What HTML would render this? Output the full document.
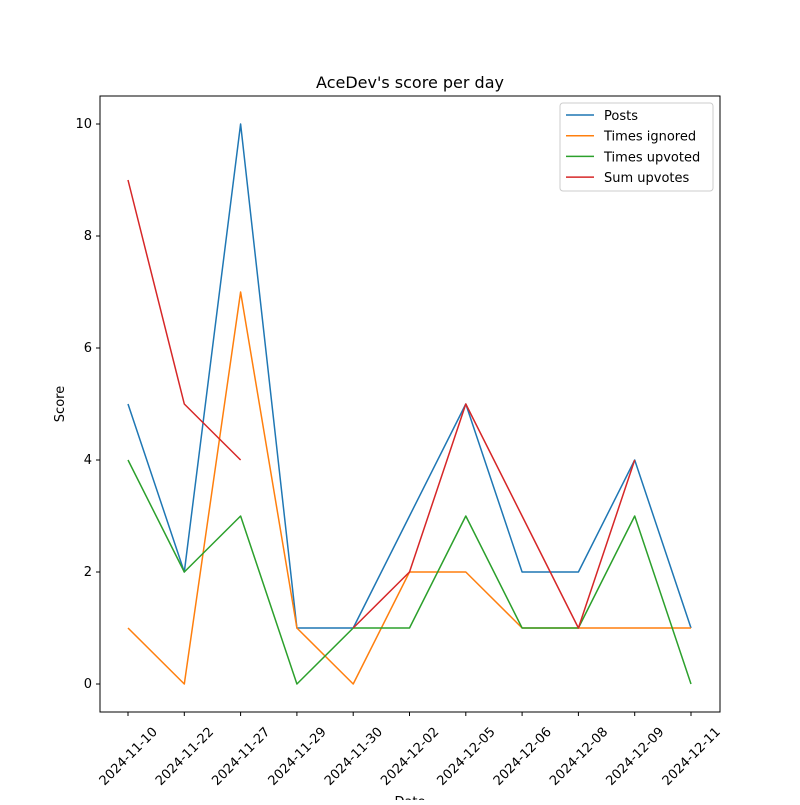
<!DOCTYPE html>
<html><head><meta charset="utf-8"><style>
body{margin:0;background:#fff}
svg{font-family:"DejaVu Sans","Liberation Sans",sans-serif}
</style></head><body>
<svg id="c" width="800" height="800" xmlns="http://www.w3.org/2000/svg"></svg>
<script>
const categories=["2024-11-10","2024-11-22","2024-11-27","2024-11-29","2024-11-30","2024-12-02","2024-12-05","2024-12-06","2024-12-08","2024-12-09","2024-12-11"];
const posts=[5,2,10,1,1,3,5,2,2,4,1];
const ignored=[1,0,7,1,0,2,2,1,1,1,1];
const upvoted=[4,2,3,0,1,1,3,1,1,3,0];
const sumUpvotes=[9,5,4,null,1,2,5,3,1,4,null];
const yTicks=[0,2,4,6,8,10];
const seriesNames=["Posts","Times ignored","Times upvoted","Sum upvotes"];
const colors=["#1f77b4","#ff7f0e","#2ca02c","#d62728"];
const NS="http://www.w3.org/2000/svg";
const svg=document.getElementById('c');
const L=100,R=720,T=96,B=712;
const x=i=>128+i*(691-128)/(categories.length-1);
const y=v=>684-v*56;
function mk(tag,attrs,parent){const e=document.createElementNS(NS,tag);for(const k in attrs)e.setAttribute(k,attrs[k]);(parent||svg).appendChild(e);return e;}
const title=mk('text',{x:410,y:88,'text-anchor':'middle','font-size':16});
title.textContent="AceDev's score per day";


yTicks.forEach(v=>{
  const t=mk('line',{x1:L-4,x2:L,y1:y(v),y2:y(v),stroke:'#000'});
  
  
  const l=mk('text',{x:L-8,y:y(v)+4,'text-anchor':'end','font-size':13});
  l.textContent=v;
  
  
});
categories.forEach((c,i)=>{
  mk('line',{x1:x(i),x2:x(i),y1:B,y2:B+4,stroke:'#000'});
  const l=mk('text',{transform:`translate(${x(i)},${B+44}) rotate(-45)`,'text-anchor':'middle','dy':'0.35em','font-size':13});
  l.textContent=c;
  
  
});
const yl=mk('text',{transform:'translate(64,404) rotate(-90)','text-anchor':'middle','font-size':13});
yl.textContent='Score';


const xl=mk('text',{x:410,y:806,'text-anchor':'middle','font-size':13});
xl.textContent='Date';


[posts,ignored,upvoted,sumUpvotes].forEach((s,si)=>{
  let d='',pen=false;
  s.forEach((v,i)=>{if(v==null){pen=false;return;}d+=(pen?'L':'M')+x(i)+' '+y(v)+' ';pen=true;});
  const p=mk('path',{d:d,fill:'none',stroke:colors[si],'stroke-width':1.5,'stroke-linejoin':'round'});
  
  
});
const frame=mk('rect',{x:L,y:T,width:R-L,height:B-T,fill:'none',stroke:'#000','stroke-width':1});


const lg=mk('g',{});


mk('rect',{x:560,y:103,width:153,height:88,rx:3,fill:'#fff',stroke:'#ccc'},lg);
seriesNames.forEach((n,i)=>{
  const yy=115+i*20.7;
  mk('line',{x1:566,x2:594,y1:yy,y2:yy,stroke:colors[i],'stroke-width':1.5},lg);
  const t=mk('text',{x:604,y:yy+5,'font-size':13},lg);
  t.textContent=n;
  
  
});
</script>
</body></html>
